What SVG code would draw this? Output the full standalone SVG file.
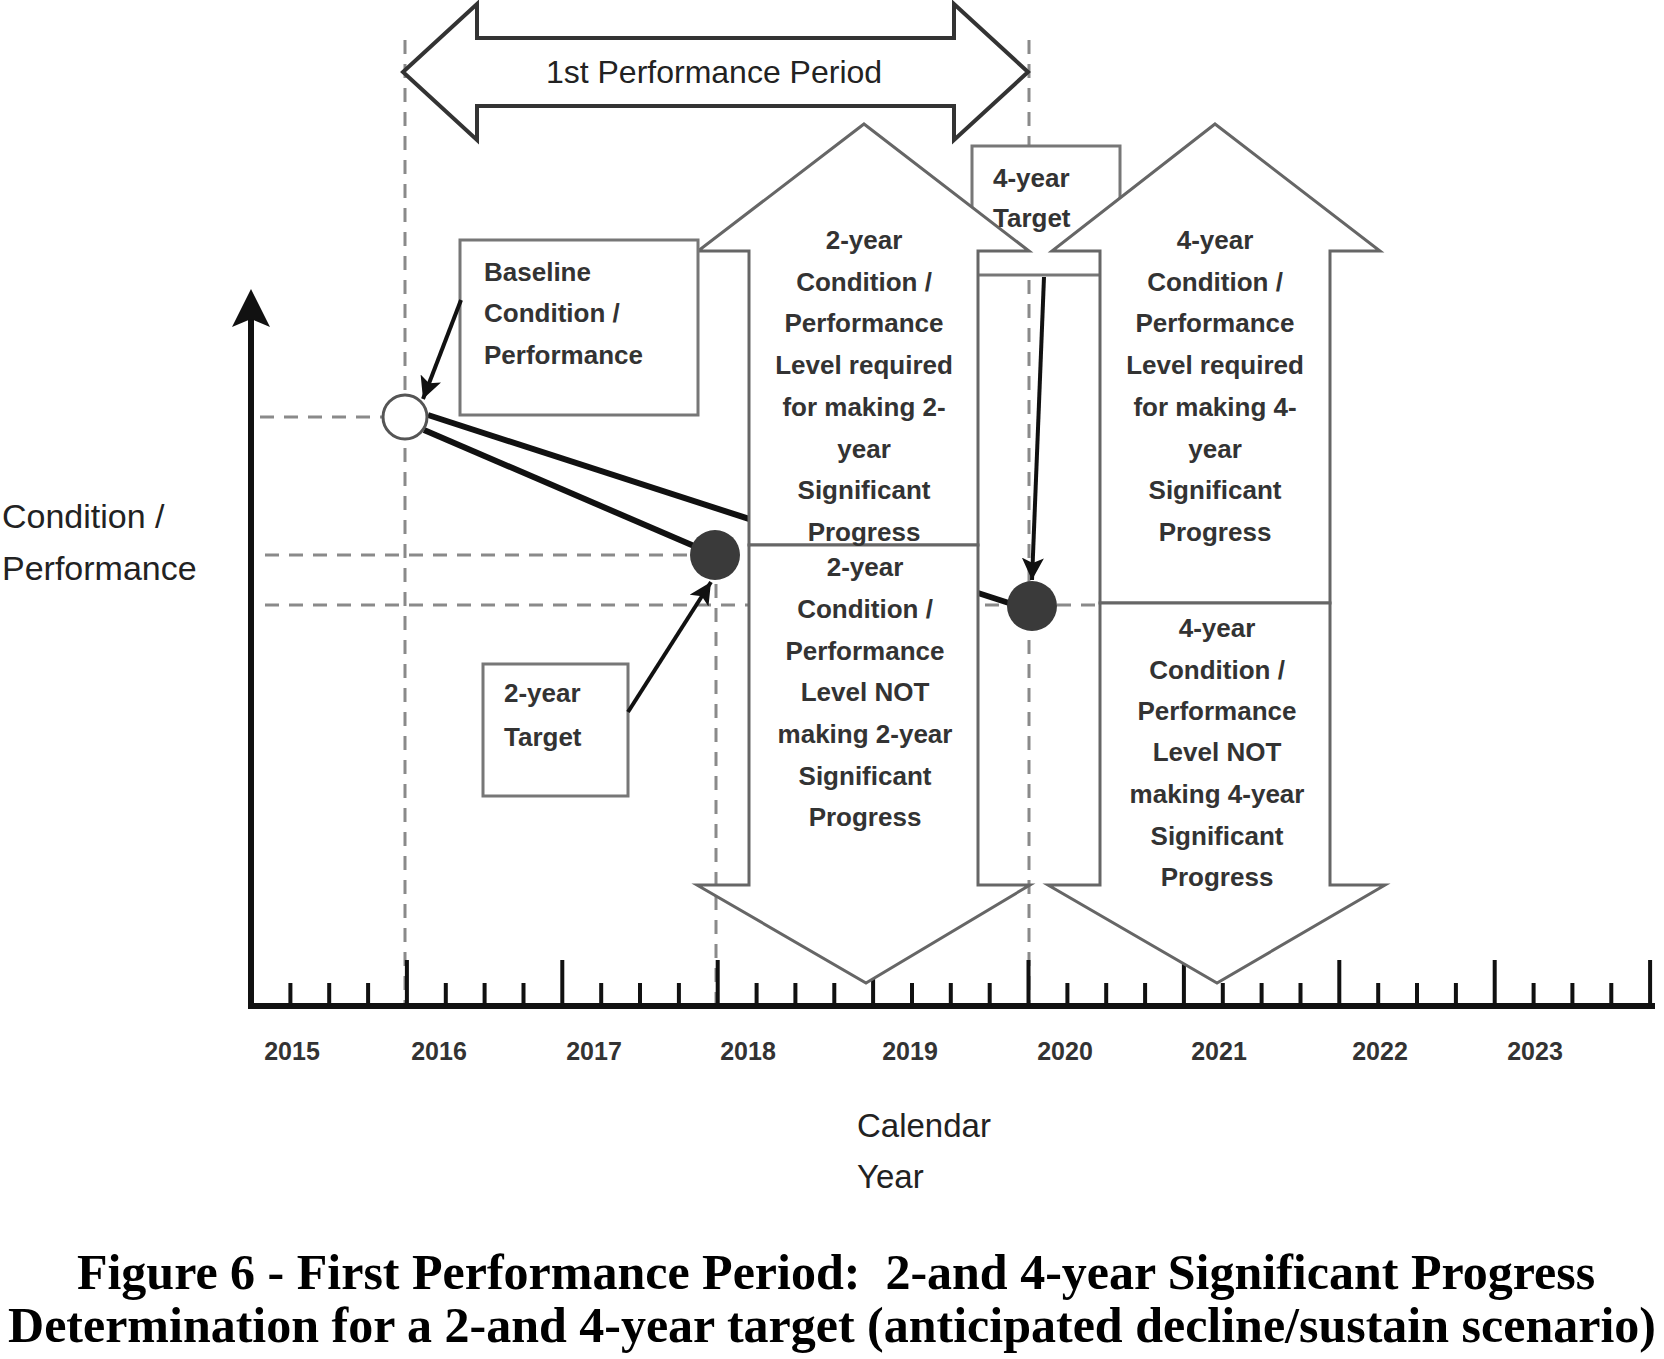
<svg xmlns="http://www.w3.org/2000/svg" width="1664" height="1359" viewBox="0 0 1664 1359">
<defs>
<style>
.guide{stroke:#8a8a8a;stroke-width:3;stroke-dasharray:14 10;fill:none}
.axis{stroke:#111;stroke-width:6;fill:none}
.tick{stroke:#111;stroke-width:4;fill:none}
.trend{stroke:#111;stroke-width:6;fill:none;stroke-linecap:butt}
.block{fill:#fff;stroke:#666;stroke-width:3;stroke-linejoin:miter}
.box{fill:#fff;stroke:#777;stroke-width:3}
.call{stroke:#111;stroke-width:4;fill:none}
.bt{font-family:"Liberation Sans",Arial,sans-serif;font-size:26px;font-weight:bold;fill:#333}
.bc{text-anchor:middle}
.lbl{font-family:"Liberation Sans",Arial,sans-serif;fill:#222}
.yr{font-family:"Liberation Sans",Arial,sans-serif;font-size:25px;font-weight:bold;fill:#333;text-anchor:middle}
.cap{font-family:"Liberation Serif","Times New Roman",serif;font-size:50px;font-weight:bold;fill:#000;text-anchor:middle}
</style>
<marker id="ah" markerUnits="userSpaceOnUse" markerWidth="24" markerHeight="22" refX="22" refY="11" orient="auto">
<path d="M0,0 L22,11 L0,22 L5,11 Z" fill="#111"/>
</marker>
</defs>
<rect width="1664" height="1359" fill="#fff"/>

<g id="guides">
<line class="guide" x1="405" y1="40" x2="405" y2="1004"/>
<line class="guide" x1="1029" y1="40" x2="1029" y2="1004"/>
<line class="guide" x1="716" y1="560" x2="716" y2="1004"/>
<line class="guide" x1="260" y1="417" x2="383" y2="417"/>
<line class="guide" x1="265" y1="555" x2="692" y2="555"/>
<line class="guide" x1="265" y1="605" x2="1100" y2="605"/>
</g>

<g id="axes">
<line class="axis" x1="251" y1="1009" x2="251" y2="318"/>
<polygon points="251,289 232,327 251,319 270,327" fill="#111"/>
<line class="axis" x1="248" y1="1006" x2="1655" y2="1006"/>
<path class="tick" d="M290.4,983V1006M329.2,983V1006M368.1,983V1006M406.9,960V1006M445.8,983V1006M484.6,983V1006M523.5,983V1006M562.3,960V1006M601.2,983V1006M640,983V1006M678.9,983V1006M717.7,960V1006M756.6,983V1006M795.4,983V1006M834.3,983V1006M873.1,960V1006M912,983V1006M950.8,983V1006M989.7,983V1006M1028.5,960V1006M1067.4,983V1006M1106.2,983V1006M1145.1,983V1006M1183.9,960V1006M1222.8,983V1006M1261.6,983V1006M1300.5,983V1006M1339.3,960V1006M1378.2,983V1006M1417,983V1006M1455.9,983V1006M1494.7,960V1006M1533.6,983V1006M1572.4,983V1006M1611.3,983V1006M1650.1,960V1006"/>
</g>

<g id="connectors">
<line class="trend" x1="428" y1="415" x2="1012" y2="604"/>
<line class="trend" x1="424" y1="430" x2="715" y2="555"/>
</g>

<g id="node-4year-target">
<rect class="box" x="972" y="146" width="148" height="129"/>
</g>

<g id="node-period">
<polygon points="403,72 477,4 477,38 954,38 954,4 1028,72 954,140 954,106 477,106 477,140" fill="#fff" stroke="#333" stroke-width="4"/>
<text class="lbl" x="714" y="83" font-size="32" text-anchor="middle">1st Performance Period</text>
</g>

<g id="node-2yr-up">
<polygon class="block" points="864,124 1029,251 978,251 978,545 749,545 749,251 698,251"/>
</g>
<g id="node-2yr-down">
<polygon class="block" points="749,545 978,545 978,885 1030,885 866,983 697,885 749,885"/>
</g>
<g id="node-4yr-up">
<polygon class="block" points="1215,124 1380,251 1330,251 1330,603 1100,603 1100,251 1052,251"/>
</g>
<g id="node-4yr-down">
<polygon class="block" points="1100,603 1330,603 1330,885 1385,885 1217,983 1048,885 1100,885"/>
</g>

<g id="node-baseline">
<rect class="box" x="460" y="240" width="238" height="175"/>
</g>
<g id="node-2year-target">
<rect class="box" x="483" y="664" width="145" height="132"/>
</g>

<g id="points">
<circle cx="405" cy="417" r="22" fill="#fff" stroke="#555" stroke-width="3"/>
<circle cx="715" cy="555" r="25" fill="#3a3a3a"/>
<circle cx="1032" cy="606" r="25" fill="#3a3a3a"/>
</g>

<g id="callouts">
<line class="call" x1="461" y1="300" x2="423" y2="399" marker-end="url(#ah)"/>
<line class="call" x1="628" y1="712" x2="711" y2="582" marker-end="url(#ah)"/>
<line class="call" x1="1044" y1="277" x2="1032" y2="580" marker-end="url(#ah)"/>
</g>

<g id="texts">
<g class="bt">
<text x="484" y="281">Baseline</text>
<text x="484" y="322">Condition /</text>
<text x="484" y="364">Performance</text>
<text x="504" y="702">2-year</text>
<text x="504" y="746">Target</text>
<text x="993" y="187">4-year</text>
<text x="993" y="227">Target</text>
</g>
<g class="bt bc">
<text x="864" y="249">2-year</text>
<text x="864" y="291">Condition /</text>
<text x="864" y="332">Performance</text>
<text x="864" y="374">Level required</text>
<text x="864" y="416">for making 2-</text>
<text x="864" y="458">year</text>
<text x="864" y="499">Significant</text>
<text x="864" y="541">Progress</text>
<text x="865" y="576">2-year</text>
<text x="865" y="618">Condition /</text>
<text x="865" y="660">Performance</text>
<text x="865" y="701">Level NOT</text>
<text x="865" y="743">making 2-year</text>
<text x="865" y="785">Significant</text>
<text x="865" y="826">Progress</text>
<text x="1215" y="249">4-year</text>
<text x="1215" y="291">Condition /</text>
<text x="1215" y="332">Performance</text>
<text x="1215" y="374">Level required</text>
<text x="1215" y="416">for making 4-</text>
<text x="1215" y="458">year</text>
<text x="1215" y="499">Significant</text>
<text x="1215" y="541">Progress</text>
<text x="1217" y="637">4-year</text>
<text x="1217" y="679">Condition /</text>
<text x="1217" y="720">Performance</text>
<text x="1217" y="761">Level NOT</text>
<text x="1217" y="803">making 4-year</text>
<text x="1217" y="845">Significant</text>
<text x="1217" y="886">Progress</text>
</g>
<text class="lbl" x="2" y="528" font-size="34">Condition /</text>
<text class="lbl" x="2" y="580" font-size="34">Performance</text>
<text class="lbl" x="857" y="1137" font-size="33">Calendar</text>
<text class="lbl" x="857" y="1188" font-size="33">Year</text>
<g class="yr">
<text x="292" y="1060">2015</text>
<text x="439" y="1060">2016</text>
<text x="594" y="1060">2017</text>
<text x="748" y="1060">2018</text>
<text x="910" y="1060">2019</text>
<text x="1065" y="1060">2020</text>
<text x="1219" y="1060">2021</text>
<text x="1380" y="1060">2022</text>
<text x="1535" y="1060">2023</text>
</g>
<text class="cap" x="836" y="1289" xml:space="preserve">Figure 6 - First Performance Period:  2-and 4-year Significant Progress</text>
<text class="cap" x="832" y="1342">Determination for a 2-and 4-year target (anticipated decline/sustain scenario)</text>
</g>
</svg>
